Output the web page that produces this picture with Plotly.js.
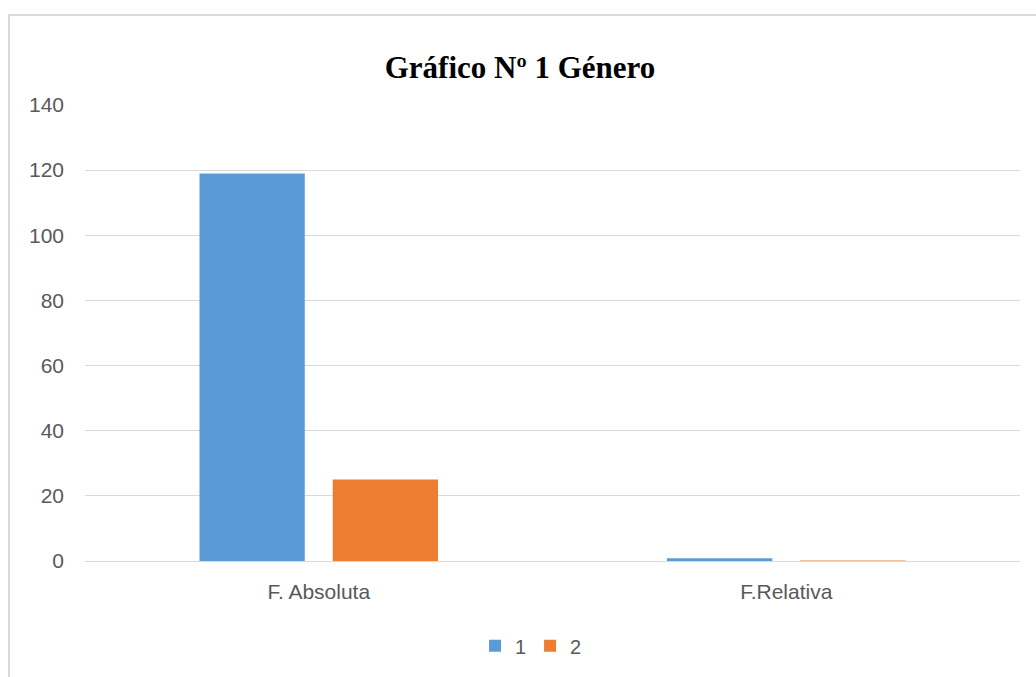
<!DOCTYPE html>
<html>
<head>
<meta charset="utf-8">
<script src="https://cdn.plot.ly/plotly-3.0.1.min.js"></script>
<style>
html,body{margin:0;padding:0;background:#fff;overflow:hidden;}
#frame{position:absolute;left:8px;top:14px;width:1100px;height:700px;border:2px solid #dadada;box-sizing:border-box;}
#chart{position:absolute;left:0;top:0;width:1036px;height:677px;}
</style>
</head>
<body>
<div id="frame"></div>
<div id="chart"></div>
<script>
const categories = ["F. Absoluta", "F.Relativa"];
const series1 = [119, 0.83];
const series2 = [25, 0.17];
const seriesNames = ["1", "2"];
const yTicks = [0, 20, 40, 60, 80, 100, 120, 140];

const data = [
  {type:'bar', x:categories, y:series1, name:seriesNames[0], marker:{color:'#5B9BD5'}, hoverinfo:'y'},
  {type:'bar', x:categories, y:series2, name:seriesNames[1], marker:{color:'#ED7D31'}, hoverinfo:'y'}
];

const tickFont = {family:'"Liberation Sans",Arial,sans-serif', size:21, color:'#595959'};

const layout = {
  width:1036, height:677,
  paper_bgcolor:'rgba(0,0,0,0)', plot_bgcolor:'rgba(0,0,0,0)',
  margin:{l:85, r:16, t:105, b:114},
  barmode:'group', bargap:0.43, bargroupgap:0.21,
  title:{text:'<b>Gráfico Nº 1 Género</b>', x:520/1036, xanchor:'center', y:1-67/677, yref:'container', yanchor:'middle',
         font:{family:'"Liberation Serif","Times New Roman",serif', size:31, color:'#000'}},
  xaxis:{showgrid:false, showline:false, zeroline:false, ticks:'',
         tickfont:tickFont, ticklabelstandoff:16},
  yaxis:{range:[0,140], tickvals:yTicks, showgrid:true, gridcolor:'#d9d9d9', gridwidth:1,
         zeroline:true, zerolinecolor:'#d9d9d9', zerolinewidth:1, showline:false, ticks:'',
         tickfont:tickFont, ticklabelstandoff:20},
  legend:{orientation:'h', x:0.476, xanchor:'center', y:-0.186, yanchor:'middle',
          font:{family:'"Liberation Sans",Arial,sans-serif', size:20, color:'#595959'}, itemwidth:30, entrywidth:10},
  showlegend:true
};

Plotly.newPlot('chart', data, layout, {displayModeBar:false, staticPlot:true});
</script>
</body>
</html>
